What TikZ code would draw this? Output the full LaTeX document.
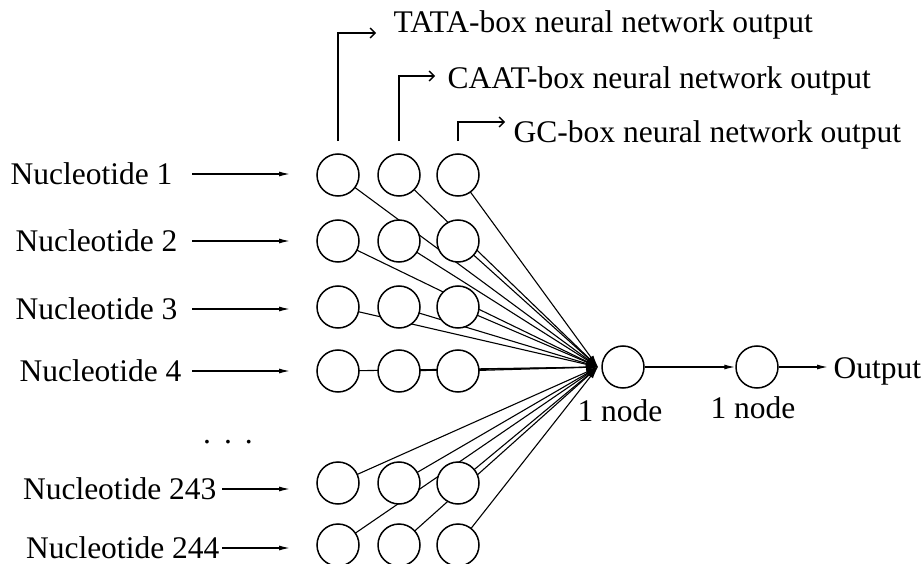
\documentclass[tikz,border=0pt]{standalone}
\usepackage{fontspec}
\setmainfont{Liberation Serif}
\usetikzlibrary{arrows.meta,positioning,backgrounds}

\begin{document}
\begin{tikzpicture}[x=1pt,y=-1pt,line width=1.3pt,
    neuron/.style={circle,draw,fill=white,minimum size=42pt,inner sep=0pt,line width=1.5pt},
    txt/.style={inner sep=0pt,font=\fontsize{31.5}{38}\selectfont},
    inarrow/.style={-{Latex[length=11pt,width=5pt]}},
    outarrow/.style={-{Straight Barb[length=5pt,width=10pt]}},
    fan/.style={line width=1.1pt,-{Latex[length=12pt,width=6pt]}}]

  \useasboundingbox (0,0) rectangle (924,564);

  % input layer, three boxes side by side
  \foreach \r/\y in {1/175,2/241,3/307,4/371,5/483,6/545}{
    \node[neuron] (a\r) at (338,\y) {};
    \node[neuron] (b\r) at (399,\y) {};
    \node[neuron] (c\r) at (458,\y) {};
  }

  \coordinate (conv) at (598,367);
  \node[neuron] (hid) at (623,367) {};
  \node[neuron] (out) at (757,367) {};

  \begin{scope}[on background layer]
    \foreach \r in {1,...,6}
      \foreach \c in {a,b,c}
        \draw[fan] (\c\r.center) -- (conv);
  \end{scope}

  % nucleotide inputs
  \foreach \n/\y/\x/\g in {1/174/173/19,2/241/178/14,3/309/178/14,4/371/182/10,243/489/217/5,244/548/220/2}{
    \node[txt,anchor=east] (l\n) at (\x,\y) {Nucleotide \n};
    \coordinate (e\n) at (290,\y);
    \draw[inarrow,shorten <=\g pt] (l\n) -- (e\n);
  }
  \node[txt,anchor=base] (dots) at (228,443) {.\hspace{13pt}.\hspace{13pt}.};

  % box outputs
  \node[txt,anchor=base west] (tata) at (393,33) {TATA-box neural network output};
  \node[txt,anchor=base west] (caat) at (447,89) {CAAT-box neural network output};
  \node[txt,anchor=base west] (gc) at (513,143) {GC-box neural network output};
  \coordinate (t1) at (376,33);
  \coordinate (t2) at (435,76);
  \coordinate (t3) at (505,122);
  \draw[outarrow] ([yshift=12pt]a1.north) |- (t1);
  \draw[outarrow] ([yshift=12pt]b1.north) |- (t2);
  \draw[outarrow] ([yshift=12pt]c1.north) |- (t3);

  % hidden and output node
  \draw[inarrow] (hid) -- (out);
  \node[txt,anchor=base west] (otxt) at (833,378) {Output};
  \draw[inarrow,shorten >=5pt] (out) -- (out -| otxt.west);
  \node[txt,below=10pt of hid,xshift=-3pt] (hl) {1 node};
  \node[txt,below=7pt of out,xshift=-4pt] (ol) {1 node};
\end{tikzpicture}
\end{document}
